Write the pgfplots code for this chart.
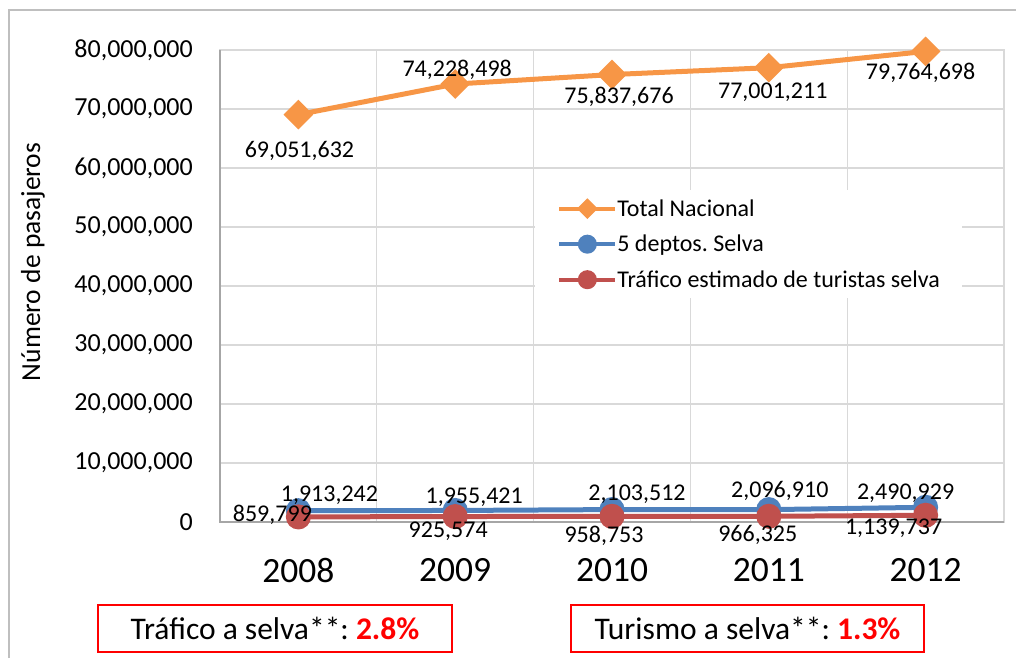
\documentclass[border=0pt]{standalone}
\usepackage{fontspec}
\setmainfont{Carlito}
\usepackage{pgfplots}
\pgfplotsset{compat=1.18}
\usepackage{pgfplotstable}
\frenchspacing
\definecolor{cOrange}{HTML}{F79646}
\definecolor{cBlue}{HTML}{4F81BD}
\definecolor{cRed}{HTML}{C0504D}
\definecolor{cGrid}{HTML}{D9D9D9}
\definecolor{cAxis}{HTML}{A6A6A6}
\definecolor{cFrame}{HTML}{BFBFBF}

\pgfplotstableread{
x y label dx dy
0 69051632 69,051,632 1 -36.5
1 74228498 74,228,498 2 14.5
2 75837676 75,837,676 7 -22.5
3 77001211 77,001,211 4 -24.5
4 79764698 79,764,698 -5 -21
}\totalnac

\pgfplotstableread{
x y label dx dy
0 1913242 1,913,242 31 15.5
1 1955421 1,955,421 19 13
2 2103512 2,103,512 25 15
3 2096910 2,096,910 11 19
4 2490929 2,490,929 -20 14
}\selva

\pgfplotstableread{
x y label dx dy
0 859799 859,799 -26 2
1 925574 925,574 -7 -15
2 958753 958,753 -8 -19
3 966325 966,325 -11 -19
4 1139737 1,139,737 -32 -13
}\turistas

\begin{document}
\begin{tikzpicture}
\useasboundingbox (-220pt,-136pt) rectangle (796pt,522pt);
\draw[cFrame, line width=1.5pt] (-211pt,-136pt) -- (-211pt,512pt) -- (796pt,512pt);
\begin{axis}[
  at={(0,0)}, anchor=south west,
  scale only axis, width=784pt, height=472pt,
  xmin=-0.5, xmax=4.5, ymin=0, ymax=80000000,
  clip=false,
  xtick={0,1,2,3,4},
  xticklabels={2008,2009,2010,2011,2012},
  minor xtick={0.5,1.5,2.5,3.5},
  xminorgrids=true,
  ytick={0,10000000,20000000,30000000,40000000,50000000,60000000,70000000,80000000},
  ymajorgrids=true,
  major tick length=0pt, minor tick length=0pt,
  axis line style={draw=cGrid, line width=1.3pt},
  grid style={draw=cGrid, line width=1.3pt},
  minor grid style={draw=cGrid, line width=1.3pt},
  scaled y ticks=false,
  /pgf/number format/assume math mode=true,
  yticklabel style={/pgf/number format/fixed, /pgf/number format/1000 sep={,}, inner sep=0pt, anchor=east, xshift=-27pt, font=\fontsize{26}{30}\selectfont},
  xticklabel style={inner sep=0pt, anchor=north, yshift=-36pt, font=\fontsize{35.5}{40}\selectfont},
  ylabel={Número de pasajeros},
  every axis y label/.style={at={(axis description cs:-0.2385,0.551)}, rotate=90, anchor=center, font=\fontsize{27.5}{32}\selectfont},
  legend style={at={(axis description cs:0.402,0.703)}, anchor=north west, draw=none, fill=white,
    font=\fontsize{24}{28}\selectfont, row sep=8.9pt, column sep=0pt, inner xsep=22pt, inner ysep=5pt,
    nodes={inner sep=0pt, text height=21pt, text depth=5.6pt}},
  legend cell align=left,
  legend image code/.code={\draw[mark repeat=2,mark phase=2,#1] plot coordinates {(0pt,0pt) (28pt,0pt) (56pt,0pt)};},
  point meta=explicit symbolic,
  nodes near coords,
  visualization depends on={\thisrow{dx}\as\dx},
  visualization depends on={\thisrow{dy}\as\dy},
  every node near coord/.append style={anchor=center, xshift=\dx pt, yshift=\dy pt, inner sep=0pt, text=black, font=\fontsize{24}{28}\selectfont},
]
\draw[cAxis, line width=1.6pt] (rel axis cs:0,1) -- (rel axis cs:0,0) -- (rel axis cs:1,0);
\addplot[cOrange, line width=5pt, mark=square*, mark size=8pt, mark options={rotate=45, solid}, legend image post style={mark size=5.3pt, line width=4pt}]
  table[x=x, y=y, meta=label] {\totalnac};
\addlegendentry{Total Nacional}
\addplot[cBlue, line width=5pt, mark=*, mark size=10pt, legend image post style={mark size=7.5pt, line width=4pt}]
  table[x=x, y=y, meta=label] {\selva};
\addlegendentry{5 deptos. Selva}
\addplot[cRed, line width=5pt, mark=*, mark size=10pt, legend image post style={mark size=7.5pt, line width=4pt}]
  table[x=x, y=y, meta=label] {\turistas};
\addlegendentry{Tráfico estimado de turistas selva}
\end{axis}
\node[draw=red, line width=2.2pt, fill=white, minimum width=354pt, minimum height=47pt, inner sep=0pt, font=\fontsize{31.5}{36}\selectfont] at (55pt,-106.5pt) {Tráfico a selva**: \textcolor{red}{\textbf{2.8\%}}};
\node[draw=red, line width=2.2pt, fill=white, minimum width=353pt, minimum height=47pt, inner sep=0pt, font=\fontsize{31.5}{36}\selectfont] at (527.5pt,-106.5pt) {Turismo a selva**: \textcolor{red}{\textbf{1.3\%}}};
\end{tikzpicture}
\end{document}
